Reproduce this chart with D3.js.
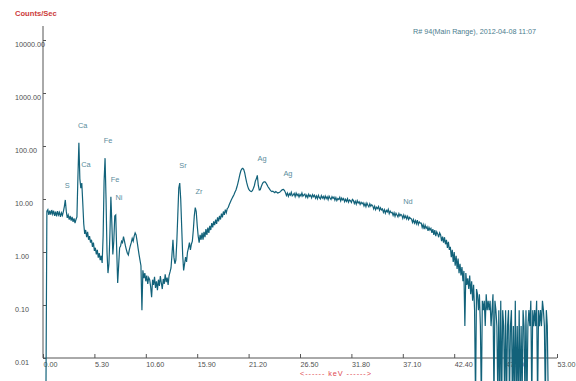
<!DOCTYPE html>
<html>
<head>
<meta charset="utf-8">
<script src="https://cdn.jsdelivr.net/npm/d3@7"></script>
<style>
  html, body { margin: 0; padding: 0; background: #ffffff; }
  svg { display: block; font-family: "Liberation Sans", Arial, sans-serif; }
</style>
</head>
<body>
<svg id="chart" width="576" height="381"></svg>
<script>
// XRF spectrum, count rate per 0.1 keV channel starting at 0 keV
const channelWidthKeV = 0.1;
const countsPerSec = [
  0, 0, 0, 0, 5.9, 6.3, 5.0, 6.0, 5.1, 6.2,
  5.2, 6.0, 4.8, 5.8, 4.7, 5.9, 5.0, 5.6, 4.6, 5.5,
  4.9, 5.8, 7.2, 9.6, 5.9, 4.4, 5.0, 4.1, 4.8, 3.9,
  4.6, 3.7, 4.3, 3.5, 4.1, 4.6, 26, 115, 24, 16,
  20, 8.5, 3.4, 2.2, 2.6, 1.9, 2.4, 1.7, 2.0, 1.5,
  1.7, 1.25, 1.5, 1.05, 1.2, 0.9, 1.1, 0.78, 0.95, 0.7,
  0.85, 0.62, 2.0, 22, 59, 10, 1.0, 0.4, 0.6, 2.2,
  11, 3.5, 0.9, 1.6, 4.8, 5.0, 1.1, 0.26, 0.55, 1.2,
  1.3, 1.6, 1.5, 1.95, 1.6, 1.3, 1.1, 0.95, 0.88, 1.1,
  1.3, 1.5, 1.8, 1.6, 2.0, 2.3, 2.1, 1.6, 1.2, 0.9,
  0.7, 0.55, 0.08, 0.45, 0.32, 0.4, 0.28, 0.36, 0.25, 0.33,
  0.3, 0.22, 0.14, 0.3, 0.24, 0.34, 0.21, 0.28, 0.19, 0.3,
  0.23, 0.35, 0.26, 0.2, 0.31, 0.25, 0.38, 0.27, 0.33, 0.24,
  0.36, 0.42, 0.5, 0.9, 1.7, 0.8, 0.6, 0.7, 1.6, 5,
  16, 20, 10, 3, 0.9, 0.45, 0.6, 0.8, 0.65, 1.0,
  1.2, 1.5, 1.1, 1.4, 1.6, 2.6, 4.8, 6.9, 5.8, 3.2,
  2.0, 1.5, 2.1, 1.7, 2.3, 1.7, 2.4, 1.9, 2.7, 2.1,
  2.9, 2.3, 3.1, 2.6, 3.5, 2.9, 3.8, 3.2, 4.1, 3.4,
  4.5, 3.8, 4.8, 4.1, 5.3, 4.5, 5.8, 5.0, 6.3, 5.5,
  6.6, 6.9, 7.8, 8.6, 9.5, 10.3, 11.2, 12.2, 13.5, 14.8,
  17, 20, 24, 29, 34, 37, 38, 36, 31, 25,
  20.5, 17.5, 15.5, 14.5, 14, 13.8, 14.5, 16, 18, 22,
  24, 28, 18, 14.8, 15, 17, 19, 20.5, 21, 21,
  20, 18.5, 17, 16, 15, 14.2, 13.8, 14, 13.6, 13.2,
  13.8, 13.4, 13.0, 13.2, 13.4, 13.9, 14.6, 15.0, 15.2, 14.4,
  13.2, 11.6, 12.9, 11.2, 12.6, 11.8, 13.4, 11.5, 12.0, 12.8,
  11.1, 12.9, 11.6, 12.4, 10.9, 12.2, 11.4, 13.0, 11.3, 11.9,
  12.4, 10.8, 11.9, 10.6, 12.3, 11.2, 11.8, 10.5, 12.1, 11.0,
  11.8, 10.3, 11.4, 10.1, 11.7, 10.6, 10.0, 11.6, 10.4, 11.2,
  10.0, 11.4, 10.2, 11.0, 9.7, 11.3, 10.4, 9.8, 11.1, 10.3,
  10.9, 9.5, 10.6, 9.3, 10.2, 9.8, 10.8, 9.2, 10.4, 9.6,
  10.2, 8.9, 9.9, 9.0, 10.1, 8.7, 9.6, 9.3, 8.6, 9.8,
  9.4, 8.2, 9.1, 8.0, 9.3, 8.4, 8.9, 7.9, 8.7, 8.1,
  8.5, 7.4, 8.2, 7.2, 8.4, 7.6, 7.1, 8.1, 7.3, 7.8,
  7.4, 6.5, 7.3, 6.3, 7.0, 6.6, 7.2, 6.1, 6.8, 6.2,
  6.5, 5.6, 6.3, 5.4, 6.1, 5.7, 6.4, 5.3, 5.9, 5.5,
  5.6, 4.9, 5.5, 4.7, 5.4, 5.0, 4.6, 5.3, 4.8, 5.1,
  4.9, 4.3, 5.0, 4.4, 4.8, 4.2, 4.7, 4.1, 4.5, 4.3,
  4.2, 3.6, 4.1, 3.5, 3.9, 3.4, 4.0, 3.3, 3.7, 3.5,
  3.5, 2.9, 3.3, 2.7, 3.2, 2.8, 3.0, 2.5, 2.9, 2.6,
  2.8, 2.3, 2.7, 2.1, 2.6, 2.0, 2.4, 2.2, 1.9, 2.3,
  2.1, 1.6, 1.95, 1.5, 1.9, 1.4, 1.7, 1.2, 1.55, 1.1,
  1.25, 0.8, 1.1, 0.65, 1.0, 0.55, 0.85, 0.48, 0.75, 0.4,
  0.6, 0.36, 0.52, 0.28, 0.44, 0.04, 0.4, 0.24, 0.32, 0.2,
  0.36, 0.16, 0.28, 0.12, 0.24, 0.08, 0, 0.2, 0.16, 0.08,
  0.16, 0.04, 0, 0.12, 0.08, 0.12, 0.04, 0.16, 0.08, 0.12,
  0.08, 0.12, 0.04, 0.08, 0.16, 0, 0.12, 0.08, 0.04, 0,
  0.08, 0, 0.12, 0, 0.08, 0.04, 0, 0.08, 0, 0.04,
  0.08, 0, 0.04, 0.08, 0, 0.04, 0, 0.12, 0, 0.04,
  0, 0.08, 0, 0.04, 0, 0.08, 0.04, 0, 0.08, 0,
  0.04, 0.08, 0.04, 0.12, 0, 0.08, 0.04, 0.08, 0.04, 0.12,
  0, 0.08, 0.04, 0.08, 0.04, 0.12, 0.08, 0.04, 0, 0.08,
  0.04, 0
];

// Axis ticks
const xTickValues = [0, 5.3, 10.6, 15.9, 21.2, 26.5, 31.8, 37.1, 42.4, 47.7, 53.0];
const yTickValues = [0.01, 0.1, 1, 10, 100, 1000, 10000];

// Element line labels: name, label energy (keV) and label level (counts/sec)
const peakNames      = ["S", "Ca", "Ca", "Fe", "Fe", "Ni", "Sr", "Zr", "Ag", "Ag", "Nd"];
const peakLabelKeV   = [2.5, 4.09, 4.43, 6.70, 7.42, 7.84, 14.43, 16.08, 22.58, 25.26, 37.63];
const peakLabelLevel = [18.4, 241, 45.7, 130, 23.8, 10.9, 43.9, 14.2, 59.4, 31, 9.2];

const W = 576, H = 381;
const svg = d3.select("#chart");

const x = d3.scaleLinear().domain([0, 53]).range([43, 557]);
const y = d3.scaleLog().domain([0.01, 10000]).range([358, 40]);

const axisColor = "#555555";
const labelColor = "#4f4f4f";

// Y axis: ticks point into the plot, labels sit on the left
const yAxis = svg.append("g")
  .attr("transform", `translate(${x(0)},0)`)
  .call(d3.axisRight(y).tickValues(yTickValues).tickSize(3).tickFormat(""));
yAxis.select(".domain").remove();
yAxis.selectAll(".tick line").attr("stroke", axisColor);
svg.append("line")
  .attr("x1", x(0)).attr("x2", x(0))
  .attr("y1", 26).attr("y2", y(0.01))
  .attr("stroke", axisColor).attr("stroke-width", 1);
svg.append("g").selectAll("text")
  .data(yTickValues)
  .join("text")
  .attr("x", 15)
  .attr("y", d => y(d) + 4)
  .attr("dy", "0.35em")
  .attr("font-size", 7.2)
  .attr("fill", labelColor)
  .text(d => d.toFixed(2));

// X axis: ticks point up, labels start at each tick
const xAxis = svg.append("g")
  .attr("transform", `translate(0,${y(0.01)})`)
  .call(d3.axisTop(x).tickValues(xTickValues).tickSize(4).tickFormat(""));
xAxis.select(".domain").remove();
xAxis.selectAll(".tick line").attr("stroke", axisColor);
svg.append("line")
  .attr("x1", x(0)).attr("x2", x(53))
  .attr("y1", y(0.01)).attr("y2", y(0.01))
  .attr("stroke", axisColor).attr("stroke-width", 1);
svg.append("g").selectAll("text")
  .data(xTickValues)
  .join("text")
  .attr("x", d => x(d) + 0.5)
  .attr("y", y(0.01) + 6)
  .attr("dy", "0.35em")
  .attr("font-size", 7.2)
  .attr("fill", labelColor)
  .text(d => d.toFixed(2));

// Header texts
svg.append("text")
  .attr("x", 15).attr("y", 13).attr("dy", "0.35em")
  .attr("font-size", 7.6).attr("font-weight", "bold")
  .attr("fill", "#cc3a3a")
  .text("Counts/Sec");
svg.append("text")
  .attr("x", 413).attr("y", 31).attr("dy", "0.35em")
  .attr("font-size", 7.2)
  .attr("fill", "#4b7d8e")
  .text("R# 94(Main Range), 2012-04-08 11:07");
svg.append("text")
  .attr("x", 300).attr("y", 373).attr("dy", "0.35em")
  .attr("font-size", 7.4)
  .attr("fill", "#e04a50")
  .attr("textLength", 71).attr("lengthAdjust", "spacing")
  .text("<------ keV ------>");

// Spectrum trace; empty channels fall off the bottom of the log axis
const spectrum = countsPerSec.map((v, i) => ({ e: i * channelWidthKeV, v }));
const line = d3.line()
  .x(d => x(d.e))
  .y(d => d.v > 0 ? y(d.v) : H + 20);
svg.append("path")
  .datum(spectrum)
  .attr("fill", "none")
  .attr("stroke", "#12627a")
  .attr("stroke-width", 1.2)
  .attr("stroke-linejoin", "miter")
  .attr("d", line);

// Element labels
svg.append("g").selectAll("text")
  .data(peakNames)
  .join("text")
  .attr("x", (d, i) => x(peakLabelKeV[i]))
  .attr("y", (d, i) => y(peakLabelLevel[i]))
  .attr("dy", "0.35em")
  .attr("text-anchor", "middle")
  .attr("font-size", 7.4)
  .attr("fill", "#5b8c9c")
  .text(d => d);
</script>
</body>
</html>
